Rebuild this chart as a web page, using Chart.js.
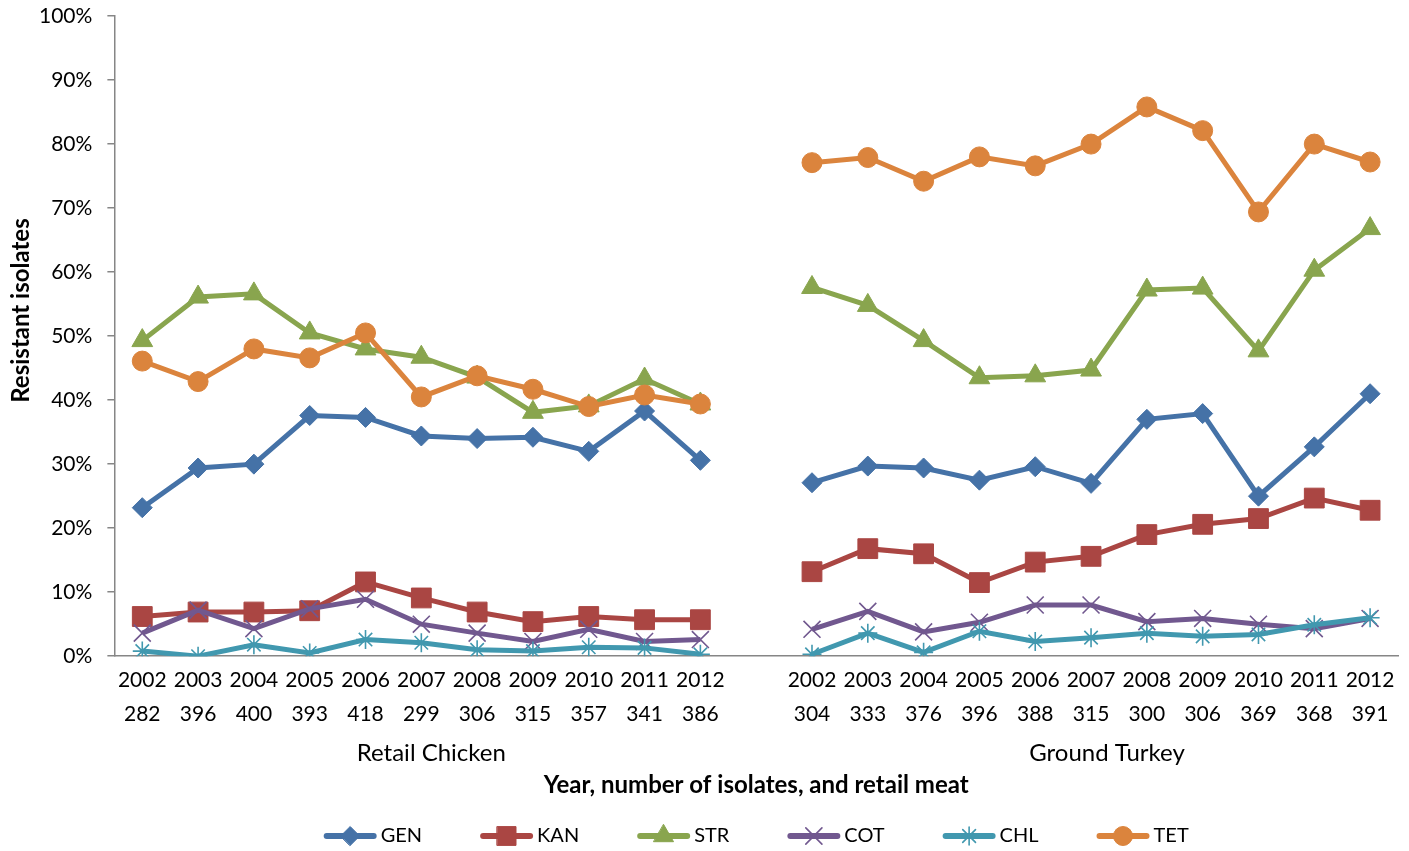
<!DOCTYPE html>
<html>
<head>
<meta charset="utf-8">
<script src="https://cdn.jsdelivr.net/npm/chart.js@4/dist/chart.umd.min.js"></script>
<style>
  html, body { margin: 0; padding: 0; background: #fff; }
  #wrap { width: 1409px; height: 851px; }
</style>
</head>
<body>
<div id="wrap"><canvas id="c" width="1409" height="851"></canvas></div>
<script>
// ---- Data ----
const years = ['2002','2003','2004','2005','2006','2007','2008','2009','2010','2011','2012'];
const chickenCounts = ['282','396','400','393','418','299','306','315','357','341','386'];
const turkeyCounts  = ['304','333','376','396','388','315','300','306','369','368','391'];
const groupNames = ['Retail Chicken', 'Ground Turkey'];
const yTicks = [0,10,20,30,40,50,60,70,80,90,100];
const yTitle = 'Resistant isolates';
const xTitle = 'Year, number of isolates, and retail meat';

const seriesNames = ['GEN','KAN','STR','COT','CHL','TET'];

const genChicken = [23.2, 29.4, 30.0, 37.6, 37.3, 34.4, 34.0, 34.2, 32.0, 38.3, 30.6];
const genTurkey  = [27.1, 29.7, 29.4, 27.5, 29.6, 27.0, 37.0, 37.9, 25.0, 32.7, 41.0];
const kanChicken = [6.2, 6.9, 6.9, 7.1, 11.6, 9.1, 6.9, 5.4, 6.2, 5.7, 5.7];
const kanTurkey  = [13.2, 16.8, 16.0, 11.5, 14.7, 15.6, 19.0, 20.6, 21.5, 24.7, 22.8];
const strChicken = [49.3, 56.1, 56.6, 50.5, 48.0, 46.7, 43.6, 38.1, 39.1, 43.3, 39.4];
const strTurkey  = [57.6, 54.8, 49.3, 43.5, 43.8, 44.7, 57.2, 57.5, 47.7, 60.3, 66.8];
const cotChicken = [3.6, 7.2, 4.3, 7.4, 8.9, 5.0, 3.6, 2.3, 4.2, 2.3, 2.6];
const cotTurkey  = [4.2, 7.0, 3.8, 5.3, 8.0, 8.0, 5.4, 5.9, 5.0, 4.3, 5.9];
const chlChicken = [0.8, 0.0, 1.8, 0.5, 2.6, 2.1, 1.0, 0.8, 1.4, 1.3, 0.3];
const chlTurkey  = [0.3, 3.6, 0.6, 3.9, 2.3, 2.9, 3.6, 3.1, 3.4, 4.9, 6.0];
const tetChicken = [46.1, 42.9, 48.0, 46.6, 50.5, 40.5, 43.8, 41.7, 39.0, 40.8, 39.4];
const tetTurkey  = [77.1, 77.9, 74.2, 78.0, 76.6, 80.0, 85.8, 82.1, 69.4, 80.0, 77.2];

// ---- Build ----
const labels = [];
years.forEach((y, i) => labels.push([y, chickenCounts[i]]));
labels.push(['', '']);
years.forEach((y, i) => labels.push([y, turkeyCounts[i]]));

function join(a, b) { return a.concat([null], b); }

const styles = {
  GEN: { color: '#4572A7', point: 'rectRot', r: 10, bw: 1 },
  KAN: { color: '#AA4643', point: 'rect', r: 14, bw: 1 },
  STR: { color: '#89A54E', point: 'triangle', r: 12, bw: 1 },
  COT: { color: '#71588F', point: 'crossRot', r: 12, bw: 1.6 },
  CHL: { color: '#4198AF', point: 'star', r: 9.5, bw: 1.6 },
  TET: { color: '#DB843D', point: 'circle', r: 10, bw: 1 }
};
const seriesData = {
  GEN: join(genChicken, genTurkey),
  KAN: join(kanChicken, kanTurkey),
  STR: join(strChicken, strTurkey),
  COT: join(cotChicken, cotTurkey),
  CHL: join(chlChicken, chlTurkey),
  TET: join(tetChicken, tetTurkey)
};

const datasets = seriesNames.map((n, i) => ({
  label: n,
  data: seriesData[n],
  borderColor: styles[n].color,
  backgroundColor: styles[n].color,
  borderWidth: 5,
  pointStyle: styles[n].point,
  pointRadius: styles[n].r,
  pointHoverRadius: styles[n].r,
  pointBorderWidth: styles[n].bw,
  pointBackgroundColor: styles[n].color,
  pointBorderColor: styles[n].color,
  tension: 0,
  spanGaps: false,
  order: seriesNames.length - i
}));

const FONT = 'Lato, "Open Sans", sans-serif';
const AXIS = '#868686';

// Group labels under the two category blocks + y axis title
const groupLabelPlugin = {
  id: 'groupLabels',
  afterDraw(chart) {
    const x = chart.scales.x;
    const y = chart.scales.y;
    const ctx = chart.ctx;
    const n = years.length;
    const groups = [[0, n - 1], [n + 1, 2 * n]];
    const shift = [10, 16];
    ctx.save();
    ctx.font = '24px ' + FONT;
    ctx.fillStyle = '#000';
    ctx.textAlign = 'center';
    ctx.textBaseline = 'middle';
    groups.forEach((g, i) => {
      const cx = (x.getPixelForValue(g[0]) + x.getPixelForValue(g[1])) / 2 + shift[i];
      ctx.fillText(groupNames[i], cx, x.top + 97);
    });
    // y axis title
    ctx.font = 'bold 24px ' + FONT;
    ctx.translate(21, y.getPixelForValue(54));
    ctx.rotate(-Math.PI / 2);
    ctx.fillText(yTitle, 0, 0);
    ctx.restore();
  }
};

// Legend: line + marker samples, centred under the plot area
const lineLegendPlugin = {
  id: 'lineLegend',
  afterDraw(chart) {
    const ctx = chart.ctx;
    const area = chart.chartArea;
    const lineW = 53, textGap = 4, itemGap = 58, yC = 836;
    ctx.save();
    ctx.font = '20px ' + FONT;
    const widths = chart.data.datasets.map(d => ctx.measureText(d.label).width);
    let total = 0;
    widths.forEach((w, i) => { total += lineW + textGap + w + (i < widths.length - 1 ? itemGap : 0); });
    let xPos = (area.left + area.right) / 2 - total / 2;
    chart.data.datasets.forEach((d, i) => {
      const st = styles[d.label];
      ctx.strokeStyle = st.color;
      ctx.lineWidth = 6;
      ctx.lineCap = 'round';
      ctx.beginPath();
      ctx.moveTo(xPos + 3, yC);
      ctx.lineTo(xPos + lineW - 3, yC);
      ctx.stroke();
      ctx.fillStyle = st.color;
      ctx.lineWidth = st.bw;
      Chart.helpers.drawPoint(ctx, { pointStyle: st.point, radius: st.r * 0.95, rotation: 0, borderWidth: st.bw }, xPos + lineW / 2, yC);
      ctx.fillStyle = '#000';
      ctx.textAlign = 'left';
      ctx.textBaseline = 'middle';
      ctx.fillText(d.label, xPos + lineW + textGap, yC);
      xPos += lineW + textGap + widths[i] + itemGap;
    });
    ctx.restore();
  }
};

new Chart(document.getElementById('c'), {
  type: 'line',
  data: { labels, datasets },
  plugins: [groupLabelPlugin, lineLegendPlugin],
  options: {
    responsive: false,
    devicePixelRatio: 1,
    animation: false,
    layout: { autoPadding: false, padding: { top: 16, right: 11, left: 24, bottom: 51 } },
    plugins: {
      tooltip: { enabled: false },
      legend: { display: false }
    },
    scales: {
      x: {
        type: 'category',
        offset: true,
        grid: { display: false, drawTicks: false },
        border: { display: true, color: AXIS, width: 1.5 },
        ticks: {
          autoSkip: false,
          maxRotation: 0,
          padding: 7,
          color: '#000',
          font: { family: FONT, size: 21, lineHeight: '34px' }
        },
        title: {
          display: true,
          text: xTitle,
          color: '#000',
          font: { family: FONT, size: 24, weight: 'bold', lineHeight: 1.2 },
          padding: { top: 33, bottom: 0 }
        }
      },
      y: {
        min: 0,
        max: 100,
        afterBuildTicks(scale) { scale.ticks = yTicks.map(v => ({ value: v })); },
        grid: { display: true, drawOnChartArea: false, drawTicks: true, tickLength: 7, color: AXIS, lineWidth: 1.5 },
        border: { display: true, color: AXIS, width: 1.5 },
        ticks: {
          padding: 15,
          color: '#000',
          font: { family: FONT, size: 21, lineHeight: 0.1 },
          callback: v => v + '%'
        },
        title: { display: false }
      }
    }
  }
});
</script>
</body>
</html>
